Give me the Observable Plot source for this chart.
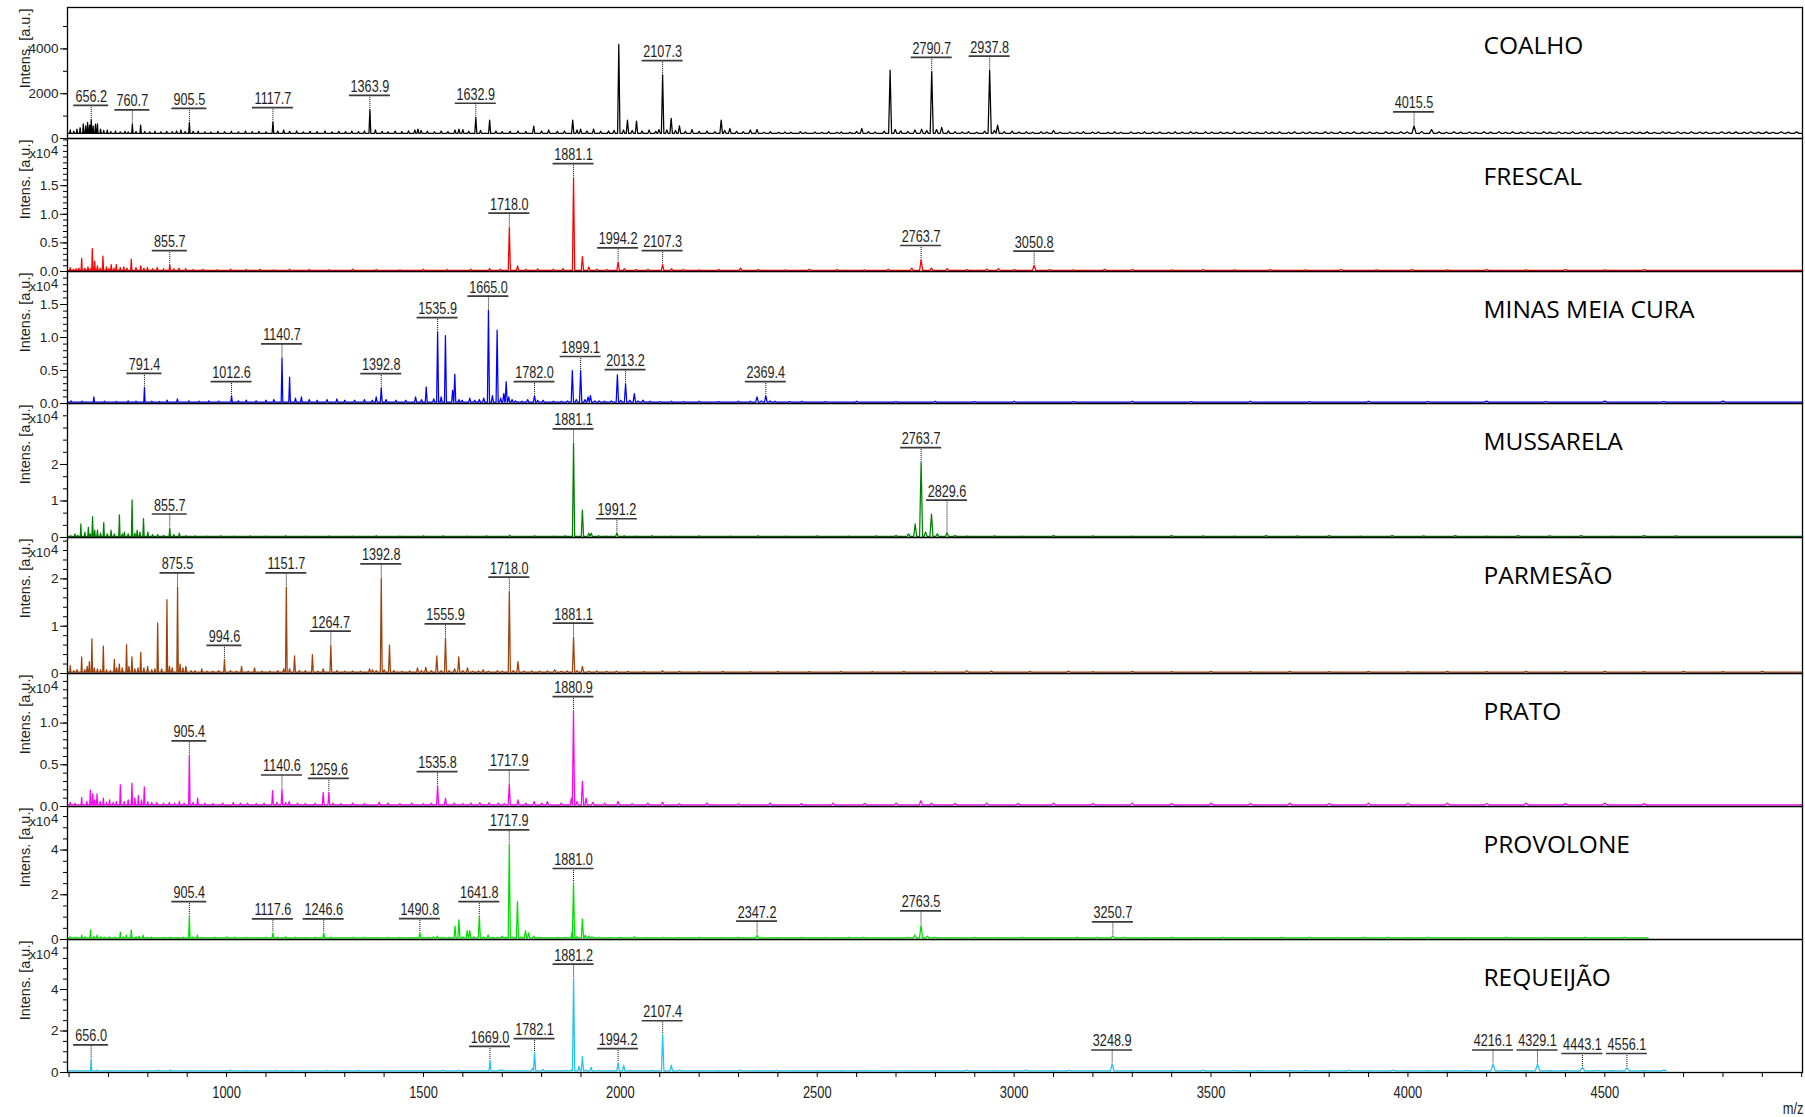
<!DOCTYPE html>
<html>
<head>
<meta charset="utf-8">
<script src="https://cdn.jsdelivr.net/npm/d3@7"></script>
<script src="https://cdn.jsdelivr.net/npm/@observablehq/plot@0.6"></script>
<style>
html, body { margin: 0; padding: 0; background: #fff; overflow: hidden; }
#chart { width: 1805px; }
#chart svg { display: block; }
</style>
</head>
<body>
<div id="chart"></div>
<script>
// ---------------- data ----------------
const xDomain = [596, 5002];
const xTickValues = [1000, 1500, 2000, 2500, 3000, 3500, 4000, 4500];

const cheeses = ["COALHO", "FRESCAL", "MINAS MEIA CURA", "MUSSARELA", "PARMESÃO", "PRATO", "PROVOLONE", "REQUEIJÃO"];
const lineColors = ["#000000", "#ff0000", "#0000ff", "#008000", "#a0400a", "#ff00ff", "#00e000", "#1ec3f2"];
const yMaxes = [5850, 2.325, 2.0, 3.67, 2.875, 1.595, 5.95, 6.41];
const yTicks = [[0, 2000, 4000], [0, 0.5, 1.0, 1.5], [0, 0.5, 1.0, 1.5], [0, 1, 2], [0, 1, 2], [0, 0.5, 1.0], [0, 2, 4], [0, 2, 4]];
const yMinorSteps = [1000, 0.1, 0.1, 1 / 3, 0.2, 0.1, 0.5, 0.5];
const yDecimals = [0, 1, 1, 0, 0, 1, 0, 0];
const showExponent = [false, true, true, true, true, true, true, true];
const baseLevels = [230, 0.02, 0.02, 0.03, 0.03, 0.02, 0.07, 0.08];
const mzEnd = [5002, 5002, 5002, 5002, 5002, 5002, 4610, 4655];

// [m/z, intensity]  (COALHO in a.u., others in x10^4 a.u.)
const peaksCoalho = [[603,380],[612,330],[620,420],[628,480],[636,650],[642,560],[647,720],[652,600],[656.2,850],[661,560],[667,640],[672,650],[680,420],[688,360],[697,380],[706,320],[718,335],[730,300],[742,325],[750,295],[760.7,650],[770,320],[781.7,600],[792,315],[805,300],[818,332],[833,298],[848,324],[862,306],[873,335],[884,380],[895,310],[905.5,720],[915,322],[928,334],[945,300],[960,292],[978,321],[995,304],[1012,326],[1030,300],[1048,332],[1065,305],[1082,323],[1100,299],[1117.7,750],[1130,334],[1145,380],[1160,322],[1178,342],[1195,300],[1212,324],[1230,306],[1250,335],[1268,299],[1285,321],[1302,308],[1318,331],[1335,312],[1350,336],[1363.9,1300],[1378,384],[1395,321],[1410,301],[1428,332],[1445,313],[1462,338],[1478,382],[1486,420],[1494,362],[1510,323],[1528,300],[1545,334],[1562,306],[1580,380],[1590,420],[1600,400],[1615,324],[1632.9,950],[1645,362],[1668,820],[1684,331],[1700,306],[1720,325],[1740,335],[1760,321],[1780,550],[1800,333],[1818,380],[1840,322],[1858,336],[1879,820],[1890,382],[1899,420],[1915,331],[1932,420],[1950,323],[1970,336],[1984,362],[1996,4200],[2008,380],[2018,820],[2030,362],[2041,780],[2055,331],[2073,380],[2090,323],[2098,400],[2107.3,2850],[2118,380],[2129,900],[2140,362],[2150,560],[2165,324],[2182,400],[2200,321],[2220,332],[2240,306],[2256,820],[2265,362],[2278,450],[2295,323],[2312,305],[2330,380],[2347,400],[2365,285],[2381,300],[2402,278],[2418,296],[2433,282],[2457,305],[2470,280],[2494,292],[2512,276],[2529,301],[2550,284],[2561,298],[2583,279],[2600,320],[2613,450],[2630,310],[2647,288],[2670,330],[2685,3050],[2698,400],[2712,340],[2730,320],[2748,380],[2765,420],[2778,360],[2790.7,3000],[2803,400],[2816,500],[2833,340],[2850,310],[2868,292],[2884,301],[2905,283],[2925,330],[2937.8,3050],[2950,360],[2958,600],[2975,300],[2995,330],[3012,287],[3031,299],[3047,281],[3068,303],[3083,286],[3100,360],[3117,284],[3142,297],[3160,279],[3176,302],[3199,285],[3214,294],[3238,278],[3255,304],[3271,283],[3297,296],[3315,277],[3331,300],[3352,286],[3370,293],[3392,279],[3409,305],[3427,284],[3448,297],[3463,281],[3486,301],[3502,287],[3524,295],[3541,280],[3559,303],[3580,285],[3598,292],[3617,278],[3639,306],[3655,284],[3674,298],[3697,281],[3712,300],[3733,286],[3751,294],[3768,279],[3790,304],[3806,287],[3828,296],[3846,280],[3863,301],[3884,285],[3903,293],[3921,282],[3944,306],[3960,284],[3982,297],[3998,290],[4015.5,560],[4035,320],[4060,400],[4079,296],[4098,281],[4117,303],[4134,286],[4156,295],[4172,280],[4193,304],[4210,285],[4231,297],[4248,282],[4266,301],[4287,286],[4305,294],[4324,279],[4345,305],[4361,284],[4383,298],[4400,281],[4418,302],[4439,287],[4455,293],[4476,280],[4496,306],[4513,285],[4530,297],[4552,282],[4570,300],[4589,286],[4607,295],[4626,279],[4647,304],[4663,285],[4685,298],[4702,281],[4720,301],[4741,287],[4757,294],[4778,280],[4797,305],[4815,284],[4833,297],[4854,282],[4871,300],[4890,286],[4910,295],[4927,279],[4948,303],[4966,285],[4987,297]];

const peaksFrescal = [[603,0.07],[611,0.04],[618,0.05],[625,0.06],[632,0.23],[640,0.06],[648,0.08],[654,0.05],[659,0.4],[665,0.18],[672,0.1],[679,0.06],[686,0.27],[695,0.08],[701,0.05],[707,0.12],[714,0.06],[720,0.12],[730,0.07],[739,0.08],[747,0.06],[758,0.215],[770,0.07],[782,0.1],[790,0.06],[799,0.07],[812,0.05],[824,0.07],[840,0.05],[855.7,0.12],[866,0.05],[879,0.06],[896,0.05],[915,0.035],[940,0.04],[975,0.03],[1010,0.04],[1050,0.035],[1085,0.04],[1120,0.03],[1160,0.04],[1210,0.035],[1260,0.03],[1320,0.04],[1380,0.035],[1440,0.03],[1500,0.04],[1560,0.035],[1620,0.04],[1668,0.05],[1695,0.04],[1718.0,0.775],[1739,0.1],[1760,0.04],[1790,0.045],[1830,0.04],[1854,0.05],[1881.1,1.64],[1903.6,0.26],[1920,0.08],[1940,0.04],[1965,0.035],[1994.2,0.17],[2010,0.05],[2040,0.035],[2070,0.04],[2107.3,0.12],[2130,0.05],[2160,0.035],[2200,0.03],[2250,0.035],[2305,0.06],[2350,0.035],[2420,0.03],[2480,0.04],[2550,0.035],[2620,0.03],[2680,0.04],[2740,0.06],[2763.7,0.21],[2790,0.06],[2830,0.05],[2880,0.035],[2930,0.04],[2960,0.05],[3000,0.035],[3050.8,0.11],[3090,0.035],[3150,0.03],[3230,0.04],[3300,0.035],[3400,0.03],[3480,0.035],[3560,0.03],[3650,0.035],[3740,0.03],[3830,0.035],[3920,0.03],[4010,0.035],[4100,0.03],[4200,0.035],[4300,0.03],[4400,0.035],[4500,0.03],[4600,0.035]];

const peaksMinas = [[605,0.04],[633,0.035],[663,0.1],[690,0.035],[720,0.03],[750,0.04],[770,0.035],[791.4,0.245],[810,0.035],[830,0.03],[849,0.05],[875,0.07],[904,0.04],[930,0.035],[955,0.04],[980,0.035],[1012.6,0.12],[1030,0.04],[1050,0.05],[1075,0.04],[1100,0.05],[1120,0.06],[1140.7,0.69],[1160,0.4],[1175,0.08],[1190,0.1],[1210,0.06],[1230,0.05],[1255,0.06],[1280,0.07],[1300,0.05],[1325,0.05],[1350,0.06],[1370,0.05],[1380,0.1],[1392.8,0.24],[1405,0.06],[1430,0.05],[1455,0.05],[1480,0.1],[1495,0.06],[1507,0.25],[1526,0.07],[1535.9,1.09],[1545,0.1],[1555.8,1.03],[1574,0.2],[1579.5,0.445],[1590,0.06],[1598,0.05],[1617.5,0.08],[1630,0.05],[1642,0.06],[1653,0.08],[1665.0,1.415],[1675,0.12],[1687,1.11],[1696,0.08],[1704,0.15],[1710,0.33],[1716.5,0.1],[1725,0.06],[1733.5,0.04],[1750,0.035],[1764.7,0.06],[1782.0,0.12],[1790,0.05],[1804,0.05],[1830,0.035],[1850,0.035],[1866,0.04],[1878,0.5],[1888,0.06],[1899.1,0.5],[1910,0.06],[1918,0.1],[1924,0.12],[1935,0.04],[1946,0.04],[1960,0.035],[1977,0.04],[1992.4,0.435],[2001,0.05],[2013.2,0.3],[2024,0.05],[2035.5,0.15],[2045,0.04],[2057.6,0.05],[2075,0.035],[2100,0.03],[2130,0.035],[2160,0.03],[2200,0.035],[2250,0.03],[2300,0.035],[2330,0.035],[2347,0.1],[2358,0.04],[2369.4,0.12],[2380,0.04],[2393,0.035],[2430,0.03],[2461,0.035],[2520,0.03],[2600,0.035],[2700,0.03],[2800,0.035],[2900,0.03],[3000,0.035],[3150,0.03],[3300,0.035],[3450,0.03],[3600,0.035],[3750,0.03],[3900,0.035],[4050,0.03],[4200,0.035],[4350,0.03],[4500,0.035],[4650,0.03],[4800,0.035]];

const peaksMussarela = [[604,0.05],[615,0.1],[622,0.06],[630,0.37],[640,0.15],[649,0.28],[654,0.1],[659.6,0.57],[665,0.2],[672,0.2],[680,0.12],[688,0.41],[697,0.1],[706.6,0.2],[715,0.1],[727.8,0.62],[735,0.1],[740.5,0.15],[750,0.1],[760,1.03],[767,0.12],[773,0.2],[780,0.15],[789,0.52],[800,0.15],[812,0.08],[825,0.08],[840,0.06],[855.7,0.26],[866,0.08],[880,0.12],[897,0.05],[920,0.045],[950,0.04],[985,0.05],[1020,0.04],[1060,0.045],[1100,0.04],[1150,0.05],[1200,0.04],[1260,0.045],[1320,0.04],[1380,0.05],[1440,0.04],[1500,0.045],[1550,0.05],[1610,0.04],[1660,0.045],[1719,0.06],[1782,0.05],[1830,0.04],[1860,0.045],[1881.1,2.59],[1903.6,0.75],[1920,0.12],[1926,0.12],[1945,0.05],[1965,0.04],[1991.2,0.13],[2010,0.045],[2040,0.04],[2080,0.05],[2130,0.04],[2200,0.045],[2280,0.04],[2350,0.05],[2420,0.04],[2500,0.045],[2580,0.04],[2650,0.045],[2700,0.05],[2731.8,0.1],[2748.7,0.37],[2763.7,2.08],[2775,0.15],[2790,0.64],[2805,0.1],[2829.6,0.13],[2850,0.05],[2880,0.04],[2950,0.045],[3020,0.04],[3100,0.05],[3200,0.045],[3300,0.04],[3400,0.05],[3480,0.045],[3560,0.04],[3640,0.05],[3720,0.045],[3800,0.05],[3880,0.04],[3960,0.05],[4040,0.045],[4120,0.05],[4200,0.04],[4280,0.05],[4360,0.045],[4440,0.05],[4520,0.04],[4600,0.05],[4680,0.045]];

const peaksParmesao = [[603,0.17],[612,0.06],[620,0.08],[632,0.35],[640,0.08],[646,0.15],[651.5,0.25],[658,0.73],[664,0.12],[672,0.1],[680,0.08],[687,0.58],[695,0.08],[705,0.06],[715,0.3],[721,0.12],[727.6,0.2],[735,0.12],[746,0.61],[752,0.15],[759.6,0.35],[767,0.1],[775,0.12],[782,0.45],[790,0.12],[799.5,0.15],[810,0.08],[818,0.1],[825,1.07],[835,0.1],[848.5,1.56],[855,0.15],[862,0.12],[875.5,1.83],[882,0.2],[889,0.12],[896.7,0.15],[910,0.06],[920,0.06],[937,0.1],[950,0.05],[965,0.05],[980,0.06],[994.6,0.3],[1010,0.06],[1025,0.05],[1038,0.15],[1055,0.05],[1071,0.12],[1090,0.05],[1110,0.05],[1130,0.06],[1145,0.1],[1151.7,1.83],[1160,0.1],[1172.6,0.37],[1185,0.06],[1200,0.06],[1218,0.4],[1232,0.05],[1245.4,0.1],[1264.7,0.6],[1280,0.06],[1300,0.05],[1320,0.055],[1340,0.05],[1363,0.1],[1370.6,0.08],[1380,0.06],[1392.8,2.02],[1400,0.08],[1413.7,0.6],[1425,0.06],[1445,0.05],[1465,0.055],[1484.8,0.12],[1495,0.06],[1505.8,0.13],[1520,0.06],[1533.8,0.37],[1545,0.06],[1555.9,0.755],[1565,0.06],[1579,0.1],[1589.6,0.35],[1600,0.06],[1611.7,0.12],[1625,0.05],[1640,0.055],[1651.5,0.08],[1665,0.05],[1687.8,0.06],[1700,0.05],[1718.0,1.74],[1728,0.06],[1740,0.25],[1755,0.05],[1775,0.055],[1795,0.05],[1815,0.055],[1833,0.08],[1850,0.05],[1865,0.055],[1881.1,0.77],[1890,0.06],[1903.6,0.15],[1920,0.05],[1940,0.055],[1965,0.045],[1990,0.05],[2020,0.045],[2060,0.04],[2107,0.06],[2150,0.045],[2200,0.04],[2260,0.045],[2330,0.04],[2400,0.045],[2480,0.04],[2560,0.045],[2640,0.04],[2720,0.045],[2800,0.04],[2880,0.06],[2942,0.05],[3040,0.045],[3138,0.055],[3200,0.04],[3300,0.045],[3400,0.04],[3500,0.045],[3600,0.04],[3700,0.045],[3800,0.04],[3900,0.045],[4000,0.04],[4100,0.045],[4200,0.04],[4300,0.045],[4400,0.04],[4500,0.045],[4600,0.04],[4700,0.045],[4800,0.04],[4900,0.045]];

const peaksPrato = [[603,0.05],[615,0.04],[632,0.11],[645,0.06],[654,0.195],[660,0.15],[665,0.08],[671,0.15],[679,0.06],[687,0.1],[695,0.05],[703,0.08],[712,0.05],[720,0.06],[730.2,0.26],[740,0.06],[750,0.08],[759.6,0.28],[767,0.1],[776,0.13],[784,0.08],[791,0.235],[800,0.06],[810,0.05],[823,0.05],[840,0.04],[854.6,0.05],[868,0.04],[880,0.06],[892,0.04],[905.4,0.62],[915,0.05],[926.4,0.1],[945,0.04],[965,0.035],[990,0.04],[1017,0.05],[1035,0.04],[1053,0.04],[1075,0.035],[1095,0.04],[1116.8,0.19],[1128,0.05],[1140.6,0.21],[1150,0.05],[1159,0.06],[1180,0.04],[1200,0.035],[1225,0.04],[1245.4,0.17],[1259.6,0.17],[1270,0.04],[1290,0.035],[1320,0.04],[1350,0.035],[1387.6,0.05],[1410,0.04],[1440,0.035],[1470,0.04],[1500,0.035],[1520,0.04],[1535.8,0.25],[1555.8,0.1],[1578,0.04],[1600,0.035],[1620,0.04],[1643,0.045],[1666.8,0.045],[1690,0.04],[1705,0.035],[1717.9,0.27],[1740,0.08],[1760,0.04],[1781,0.06],[1800,0.04],[1814.7,0.06],[1850,0.04],[1875.6,0.1],[1880.9,1.15],[1890,0.06],[1903.6,0.3],[1913,0.1],[1930,0.05],[1960,0.04],[1994,0.06],[2030,0.035],[2070,0.04],[2107,0.05],[2150,0.035],[2220,0.04],[2300,0.035],[2380,0.04],[2460,0.035],[2540,0.04],[2620,0.035],[2700,0.04],[2763,0.07],[2790,0.04],[2850,0.035],[2930,0.04],[3010,0.035],[3100,0.04],[3200,0.035],[3300,0.04],[3400,0.035],[3500,0.04],[3600,0.035],[3700,0.04],[3800,0.035],[3900,0.04],[4000,0.035],[4100,0.04],[4200,0.035],[4300,0.04],[4400,0.035],[4500,0.04],[4600,0.035]];

const peaksProvolone = [[603,0.12],[618,0.1],[632,0.2],[641,0.12],[654.5,0.43],[663,0.15],[671,0.2],[680,0.12],[690,0.1],[703,0.12],[715,0.1],[730.2,0.33],[738,0.12],[745.4,0.2],[758,0.43],[770,0.12],[778,0.15],[787.7,0.2],[798,0.1],[809,0.1],[825,0.09],[840,0.095],[857,0.1],[875,0.09],[890,0.1],[905.4,1.07],[915,0.12],[925.6,0.2],[945,0.09],[970,0.1],[1000,0.12],[1020,0.1],[1050,0.1],[1080,0.09],[1100,0.1],[1117.6,0.3],[1130,0.1],[1150,0.12],[1175,0.1],[1200,0.09],[1225,0.1],[1246.6,0.3],[1265,0.1],[1290,0.09],[1320,0.095],[1350,0.1],[1380,0.09],[1410,0.095],[1440,0.1],[1465,0.09],[1490.8,0.31],[1500,0.1],[1513,0.1],[1525,0.12],[1535,0.15],[1550,0.1],[1565,0.1],[1580,0.6],[1590,0.88],[1600,0.12],[1611,0.4],[1617.5,0.4],[1628,0.12],[1641.8,1.07],[1652,0.12],[1664,0.2],[1675,0.1],[1687,0.1],[1700,0.15],[1710,0.1],[1717.9,4.28],[1725,0.12],[1738.6,1.7],[1748,0.12],[1759,0.4],[1767,0.3],[1780,0.15],[1795,0.1],[1815,0.09],[1840,0.095],[1860,0.1],[1877.4,0.35],[1881.0,2.55],[1890,0.12],[1903.6,0.91],[1911,0.2],[1919.6,0.15],[1928,0.12],[1947.5,0.1],[1970,0.09],[2000,0.095],[2035.5,0.12],[2070,0.09],[2110,0.1],[2150,0.09],[2200,0.095],[2260,0.09],[2300,0.095],[2347.2,0.2],[2400,0.09],[2460,0.095],[2520,0.09],[2580,0.095],[2617.5,0.1],[2680,0.09],[2730,0.1],[2748,0.2],[2763.5,0.65],[2780,0.15],[2800,0.1],[2850,0.09],[2900,0.095],[2960,0.09],[3020,0.095],[3090,0.09],[3160,0.095],[3210,0.1],[3250.7,0.16],[3280,0.1],[3330,0.09],[3400,0.095],[3460,0.09],[3530,0.1],[3600,0.09],[3680,0.095],[3750,0.1],[3820,0.09],[3890,0.095],[3950,0.1],[4000,0.09],[4050,0.1],[4150,0.09],[4250,0.095],[4350,0.09],[4450,0.095],[4550,0.1]];

const peaksRequeijao = [[603,0.1],[620,0.09],[640,0.1],[656.0,0.66],[671,0.12],[700,0.09],[740,0.095],[790,0.09],[827,0.12],[857,0.12],[900,0.09],[950,0.095],[1000,0.1],[1010,0.12],[1050,0.1],[1100,0.09],[1125,0.1],[1165,0.1],[1200,0.09],[1255,0.1],[1300,0.09],[1335,0.1],[1400,0.09],[1460,0.095],[1500,0.09],[1550,0.11],[1589.6,0.11],[1620,0.09],[1645,0.095],[1669.0,0.58],[1693.7,0.12],[1700,0.12],[1730,0.09],[1760,0.095],[1777,0.2],[1782.1,0.96],[1803.8,0.15],[1830,0.09],[1860,0.1],[1875,0.12],[1881.2,4.55],[1895,0.3],[1903.6,0.77],[1912,0.12],[1925.6,0.25],[1945,0.1],[1970,0.09],[1994.2,0.48],[2008.4,0.35],[2025,0.1],[2050,0.09],[2080,0.1],[2107.4,1.82],[2129.4,0.35],[2150.5,0.12],[2200,0.09],[2250,0.095],[2304.6,0.12],[2350,0.09],[2396,0.11],[2450,0.09],[2500,0.095],[2560,0.09],[2620,0.095],[2680,0.09],[2740,0.095],[2800,0.09],[2880,0.12],[2950,0.09],[3030,0.12],[3100,0.09],[3140,0.11],[3200,0.09],[3248.9,0.41],[3300,0.09],[3400,0.095],[3480,0.12],[3560,0.1],[3620,0.09],[3700,0.1],[3740,0.1],[3800,0.09],[3850,0.11],[3900,0.09],[3962,0.12],[4000,0.09],[4050,0.095],[4100,0.09],[4150,0.1],[4216.1,0.41],[4250,0.1],[4300,0.09],[4329.1,0.41],[4360,0.09],[4400,0.1],[4443.1,0.24],[4480,0.1],[4520,0.09],[4556.1,0.24],[4600,0.09],[4650,0.11]];

// peak labels: "text" or ["text", level the label is lifted to]
const labelsCoalho = ["656.2", "760.7", "905.5", "1117.7", "1363.9", "1632.9", "2107.3", "2790.7", "2937.8", "4015.5"];
const labelsFrescal = ["855.7", "1718.0", "1881.1", "1994.2", "2107.3", "2763.7", "3050.8"];
const labelsMinas = ["791.4", "1012.6", "1140.7", "1392.8", "1535.9", "1665.0", "1782.0", "1899.1", "2013.2", "2369.4"];
const labelsMussarela = ["855.7", "1881.1", "1991.2", "2763.7", ["2829.6", 0.64]];
const labelsParmesao = ["875.5", "994.6", "1151.7", "1264.7", "1392.8", "1555.9", "1718.0", "1881.1"];
const labelsPrato = ["905.4", "1140.6", "1259.6", "1535.8", "1717.9", "1880.9"];
const labelsProvolone = ["905.4", "1117.6", "1246.6", "1490.8", "1641.8", "1717.9", "1881.0", "2347.2", "2763.5", "3250.7"];
const labelsRequeijao = ["656.0", "1669.0", "1782.1", "1881.2", "1994.2", "2107.4", "3248.9", "4216.1", "4329.1", "4443.1", "4556.1"];

const peakSets = [peaksCoalho, peaksFrescal, peaksMinas, peaksMussarela, peaksParmesao, peaksPrato, peaksProvolone, peaksRequeijao];
const labelSets = [labelsCoalho, labelsFrescal, labelsMinas, labelsMussarela, labelsParmesao, labelsPrato, labelsProvolone, labelsRequeijao];

// ---------------- layout ----------------
const panelHeights = [131, 133, 132, 134, 136, 133, 133, 133];
const TOP = 7, BOTTOM = 44;
const tickFont = "'Liberation Sans', Arial, Helvetica, sans-serif";

function spectrum(peaks, base, end) {
  const s = peaks.slice().sort((a, b) => a[0] - b[0]);
  const pts = [{mz: xDomain[0], i: base}];
  for (const [mz, h] of s) {
    if (mz > end) break;
    const hw = 0.8 + mz * 0.0011;
    pts.push({mz: mz - hw, i: base}, {mz, i: h}, {mz: mz + hw, i: base});
  }
  pts.push({mz: end, i: base});
  return pts;
}

function condense(svg, selector, k) {
  svg.querySelectorAll(selector).forEach(t => {
    const tr = t.getAttribute("transform");
    if (tr) t.setAttribute("transform", tr + ` scale(${k},1)`);
  });
}

const container = document.getElementById("chart");
cheeses.forEach((name, k) => {
  const first = k === 0, last = k === cheeses.length - 1;
  const mt = first ? TOP : 0, mb = last ? BOTTOM : 0;
  const pk = peakSets[k];
  const pts = spectrum(pk, baseLevels[k], mzEnd[k]);
  const labs = labelSets[k].map(l => {
    const [txt, lift] = Array.isArray(l) ? l : [l, null];
    const mz = +txt;
    const p = pk.reduce((a, b) => Math.abs(b[0] - mz) < Math.abs(a[0] - mz) ? b : a);
    return {mz, txt, peak: p[1], at: lift == null ? p[1] : Math.max(lift, p[1])};
  });
  const fmt = d => yDecimals[k] ? d.toFixed(1) : String(d);
  const minor = d3.range(0, yMaxes[k] + 1e-9, yMinorSteps[k]);
  const labelStyle = {stroke: "#3a3a3a", strokeWidth: 1.7, dy: -14};

  const marks = [
    Plot.axisY(minor, {tickSize: 4, tickFormat: () => "", label: null, stroke: "#000"}),
    Plot.axisY(yTicks[k], {tickSize: 7, tickPadding: 2, tickFormat: fmt, fontSize: 13.5, label: null, stroke: "#000", fill: "#222"}),
    Plot.line(pts, {x: "mz", y: "i", stroke: lineColors[k], strokeWidth: 1.25}),
    Plot.ruleX(labs, {x: "mz", y1: "at", y2: "peak", insetTop: -14, stroke: "#000", strokeWidth: 1, strokeDasharray: "1,1"}),
    Plot.ruleY(labs.filter(d => d.txt.length <= 5), {y: "at", x1: "mz", x2: "mz", insetLeft: -17.5, insetRight: -17.5, ...labelStyle}),
    Plot.ruleY(labs.filter(d => d.txt.length > 5), {y: "at", x1: "mz", x2: "mz", insetLeft: -20.5, insetRight: -20.5, ...labelStyle}),
    Plot.text(labs, {x: "mz", y: "at", text: "txt", dy: -17.5, lineAnchor: "bottom", fontSize: 16, fill: "#1e1e1e"}),
    Plot.text([name], {text: d => d, frameAnchor: "top-left", dx: 1416, dy: 46.5, textAnchor: "start", lineAnchor: "bottom", fontSize: 24.5, fontFamily: "'Open Sans', sans-serif", fill: "#000"}),
    Plot.text(["Intens. [a.u.]"], {text: d => d, frameAnchor: "top-left", rotate: -90, textAnchor: "end", dx: -48, dy: 1, fontSize: 14.5, fill: "#222"}),
    Plot.frame({stroke: "#000", strokeWidth: 1.3})
  ];
  if (showExponent[k]) {
    marks.push(
      Plot.text(["x10"], {text: d => d, frameAnchor: "top-left", dx: -17, dy: 19.5, textAnchor: "end", lineAnchor: "bottom", fontSize: 13, fill: "#222"}),
      Plot.text(["4"], {text: d => d, frameAnchor: "top-left", dx: -16.5, dy: 16, textAnchor: "start", lineAnchor: "bottom", fontSize: 13, fill: "#222"})
    );
  }
  if (last) {
    const xAll = d3.range(600, 5001, 100);
    marks.push(
      Plot.axisX(xAll, {tickSize: 5, tickPadding: 8, fontSize: 17, label: null, stroke: "#000", fill: "#222",
        tickFormat: d => xTickValues.includes(d) ? String(d) : ""}),
      Plot.text(["m/z"], {text: d => d, frameAnchor: "bottom-right", dx: 1, dy: 41, textAnchor: "end", lineAnchor: "bottom", fontSize: 17, fill: "#222"})
    );
  }

  const svg = Plot.plot({
    width: 1805,
    height: panelHeights[k] + mt + mb,
    marginLeft: 67, marginRight: 3, marginTop: mt, marginBottom: mb,
    x: {domain: xDomain, axis: null},
    y: {domain: [0, yMaxes[k]], axis: null},
    style: {background: "none", overflow: "visible", fontFamily: tickFont, color: "#000"},
    marks
  });
  condense(svg, 'g[font-size="16"] text', 0.79);
  condense(svg, 'g[font-size="17"] text', 0.76);
  container.appendChild(svg);
});
</script>
</body>
</html>
